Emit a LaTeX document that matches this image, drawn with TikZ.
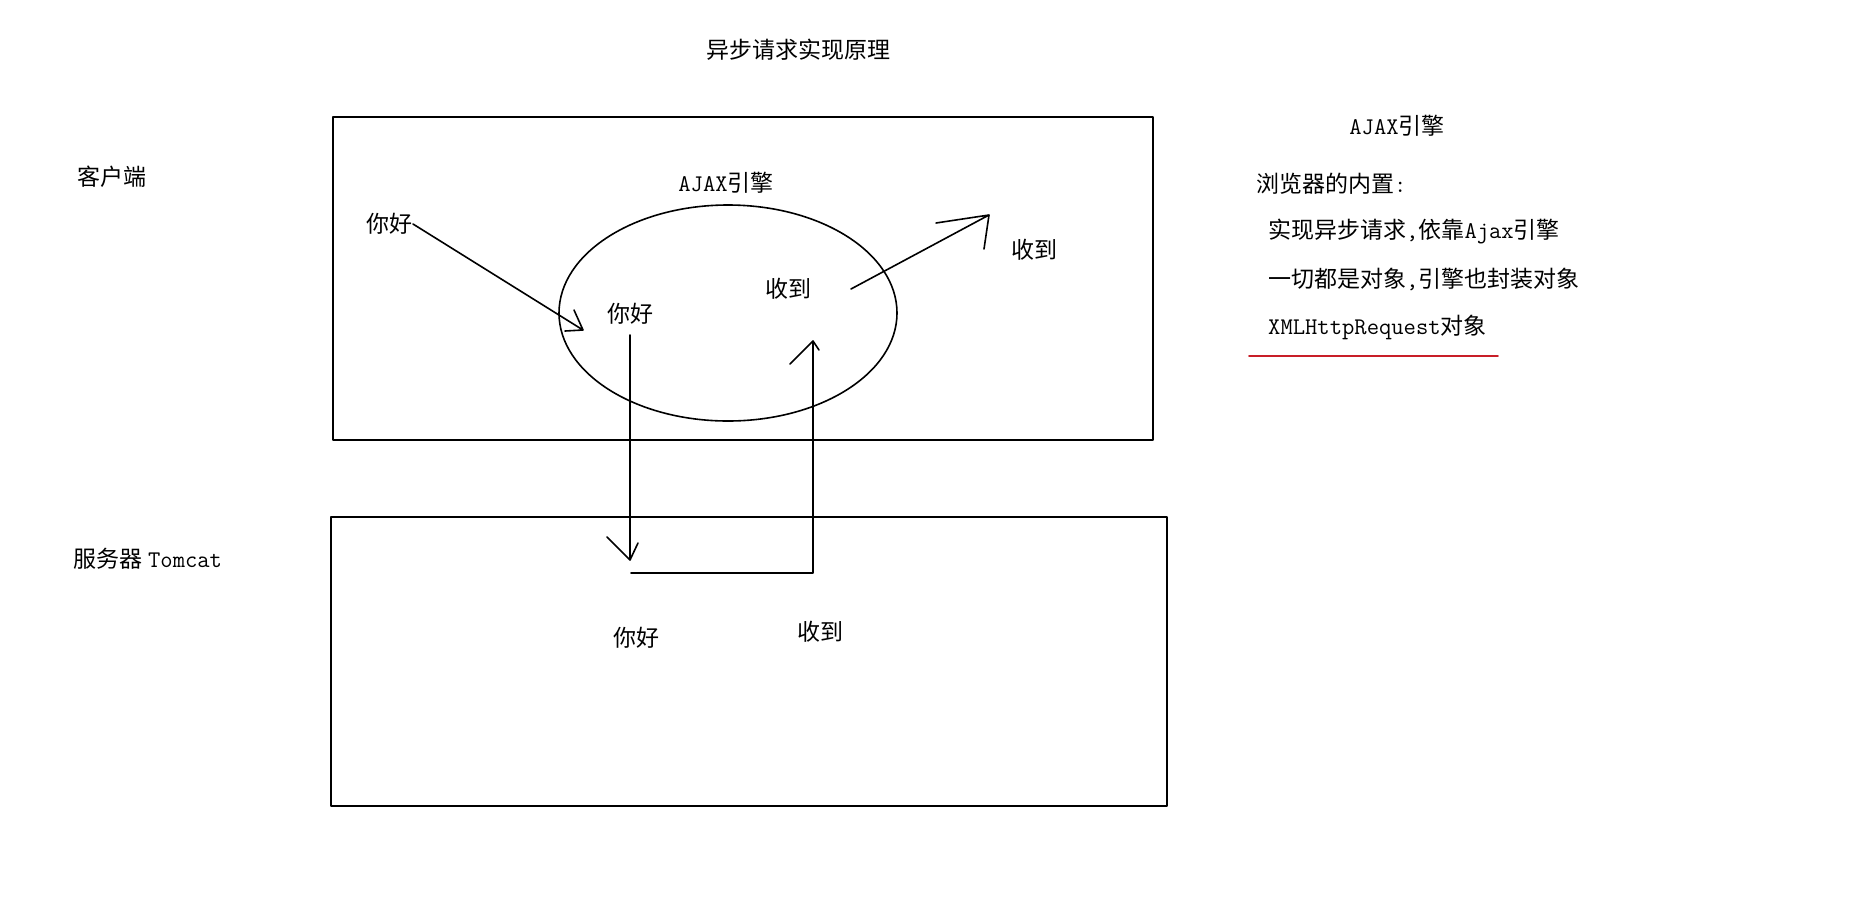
\documentclass[tikz,border=0pt]{standalone}
\usepackage{fontspec}
\usetikzlibrary{shapes.geometric}
\setmainfont{Noto Sans CJK SC}
\newfontfamily\lat{Latin Modern Mono}[Scale=1.04]
\begin{document}
\begin{tikzpicture}[x=1pt,y=-1pt,line cap=round,line join=round,
  lbl/.style={inner sep=0pt,font=\fontsize{23}{28}\selectfont},
  note/.style={lbl,anchor=west},
  frame/.style={draw,line width=2pt},
  pen/.style={line width=1.6pt}]
\useasboundingbox[fill=white] (0,0) rectangle (1849,914);

% title and side labels
\node[lbl] (title) at (798,50) {异步请求实现原理};
\node[lbl] (client) at (112,177) {客户端};
\node[lbl] (server) at (148,559) {服务器 {\lat Tomcat}};

% client and server frames
\draw[frame] (332.5,116.7) rectangle (1153,440);
\draw[frame] (331,516.5) rectangle (1167,805.5);

% AJAX engine inside the client
\node[draw,pen,ellipse,minimum width=338pt,minimum height=216pt,inner sep=0pt] (engine) at (728,313) {};
\node[lbl] (enginelbl) at (726,183) {{\lat AJAX}引擎};

% texts inside client / engine / server
\node[lbl] (hi1) at (389,224) {你好};
\node[lbl] (hi2) at (630,314) {你好};
\node[lbl] (ok2) at (788,289) {收到};
\node[lbl] (ok1) at (1034,250) {收到};
\node[lbl] (hi3) at (636,638) {你好};
\node[lbl] (ok3) at (820,632) {收到};

% arrow end points
\coordinate (a1s) at (413,224);
\coordinate (a1t) at (583,330);
\coordinate (a2s) at (851,289);
\coordinate (a2t) at (989,215);
\coordinate (d1s) at (630,335);
\coordinate (d1t) at (630,560);
\coordinate (bl) at (631,573);
\coordinate (br) at (813,573);
\coordinate (u1t) at (813,341);

% request from page to engine
\draw[pen] (a1s) -- (a1t) (a1t) -- ++(-18,1) (a1t) -- ++(-9,-20);
% reply from engine back to page
\draw[pen] (a2s) -- (a2t) (a2t) -- ++(-53,8) (a2t) -- ++(-5,34);
% request down to the server
\draw[pen] (d1s) -- (d1t) (d1t) -- ++(-23,-23) (d1t) -- ++(8,-17);
% through the server and back up
\draw[pen] (bl) -- (br) -- (u1t) (u1t) -- ++(-23,23) (u1t) -- ++(6,9);

% notes on the right
\node[lbl] (ajaxhead) at (1397,126) {{\lat AJAX}引擎};
\node[note] (n1) at (1256,184) {浏览器的内置{\lat :}};
\node[note] (n2) at (1268,231) {实现异步请求{\lat ,}依靠{\lat Ajax}引擎};
\node[note] (n3) at (1268,279) {一切都是对象{\lat ,}引擎也封装对象};
\node[note] (n4) at (1268,327) {{\lat XMLHttpRequest}对象};
\coordinate (ul1) at (1249,356);
\coordinate (ul2) at (1498,356);
\draw[line width=1.8pt,color={rgb,255:red,200;green,30;blue,40}] (ul1) -- (ul2);
\end{tikzpicture}
\end{document}
